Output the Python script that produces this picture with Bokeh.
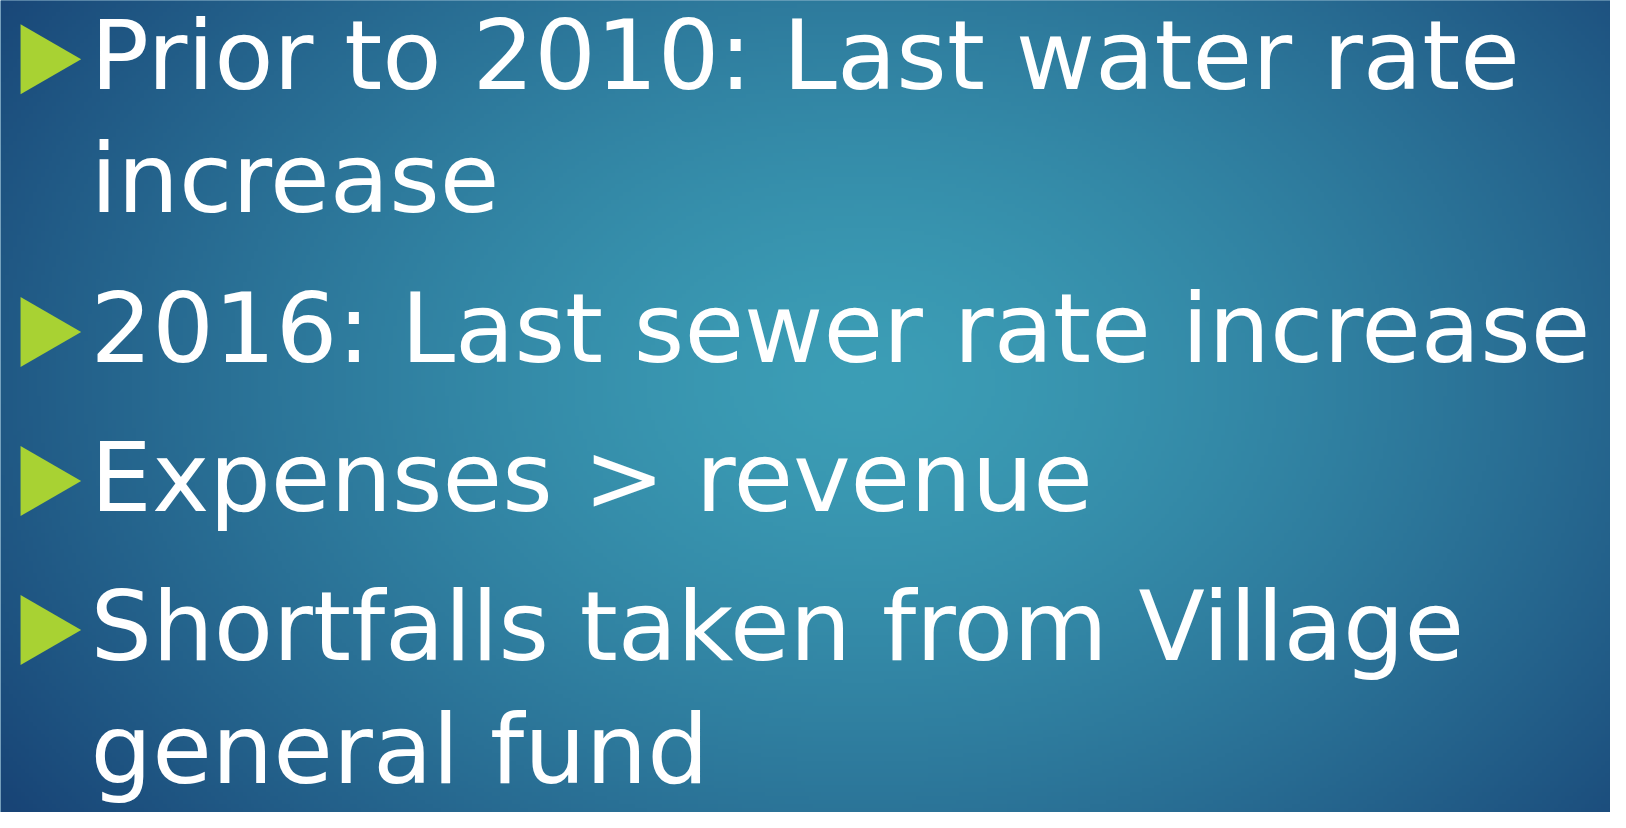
import numpy as np
from bokeh.plotting import figure
from bokeh.models import Range1d, ColumnDataSource
from bokeh.core.properties import value
from bokeh.embed import file_html
from bokeh.resources import INLINE

# ---- slide content ----
line_text = [
    "Prior to 2010: Last water rate",
    "increase",
    "2016: Last sewer rate increase",
    "Expenses > revenue",
    "Shortfalls taken from Village",
    "general fund",
]
line_starts_bullet = [True, False, True, True, True, False]

# ---- layout constants (slide units = 1626 x 828 reference pixels) ----
SLIDE_W, SLIDE_H = 1626, 828
FIG_W, FIG_H = 1610, 812
FIRST_BASELINE = 93
WRAP_GAP = 126
BULLET_GAP = 152
TEXT_X = 91
FONT_PX = 97
BASELINE_FIX = 37          # bokeh text placement correction, slide units
TRI_H = 62                 # bullet triangle depth (slide units)
TRI_SIZE = 70              # bullet triangle base, screen px
TRI_LEFT = 20
TRI_OFFSET = 33

baselines = []
y = FIRST_BASELINE
for i, b in enumerate(line_starts_bullet):
    if i > 0:
        y += BULLET_GAP if b else WRAP_GAP
    baselines.append(y)

def to_data_y(sy):
    return SLIDE_H - sy

p = figure(width=FIG_W, height=FIG_H, output_backend="svg", toolbar_location=None,
           x_range=Range1d(0, SLIDE_W), y_range=Range1d(0, SLIDE_H),
           min_border=0)
p.axis.visible = False
p.grid.visible = False
p.outline_line_color = None
p.background_fill_color = "#2a7aa6"
p.border_fill_color = "#2a7aa6"

# ---- background radial gradient ----
step = 4
nx, ny = SLIDE_W // step + 1, SLIDE_H // step + 1
xs = (np.arange(nx) + 0.5) * step
ys_slide = SLIDE_H - (np.arange(ny) + 0.5) * step   # row 0 at bottom
X, Y = np.meshgrid(xs, ys_slide)
cx, cy, rx, ry = 870, 390, 1050, 760
r = np.sqrt(((X - cx) / rx) ** 2 + ((Y - cy) / ry) ** 2)
t = np.clip(r, 0, 1) ** 1.4
c0 = np.array([60, 158, 182], dtype=float)
c1 = np.array([24, 68, 118], dtype=float)
rgb = c0[None, None, :] + (c1 - c0)[None, None, :] * t[:, :, None]
img = np.empty((ny, nx), dtype=np.uint32)
view = img.view(dtype=np.uint8).reshape((ny, nx, 4))
view[:, :, 0] = rgb[:, :, 0].astype(np.uint8)
view[:, :, 1] = rgb[:, :, 1].astype(np.uint8)
view[:, :, 2] = rgb[:, :, 2].astype(np.uint8)
view[:, :, 3] = 255
p.image_rgba(image=[img], x=0, y=0, dw=nx * step, dh=ny * step)

# ---- text lines ----
src = ColumnDataSource(dict(
    x=[TEXT_X] * len(line_text),
    y=[to_data_y(b - BASELINE_FIX) for b in baselines],
    text=line_text,
))
p.text(x="x", y="y", text="text", source=src, text_color="white",
       text_font=value("DejaVu Sans"), text_font_size=f"{FONT_PX}px",
       text_baseline="alphabetic", text_align="left")

# ---- bullets ----
bx = [TRI_LEFT + TRI_H / 3 for b in line_starts_bullet if b]
by = [to_data_y(bl - TRI_OFFSET) for bl, b in zip(baselines, line_starts_bullet) if b]
p.scatter(x=bx, y=by, marker="triangle", size=TRI_SIZE, angle=-np.pi / 2,
          fill_color="#a8d233", line_color=None)

open("out.html", "w").write(file_html(p, INLINE))
